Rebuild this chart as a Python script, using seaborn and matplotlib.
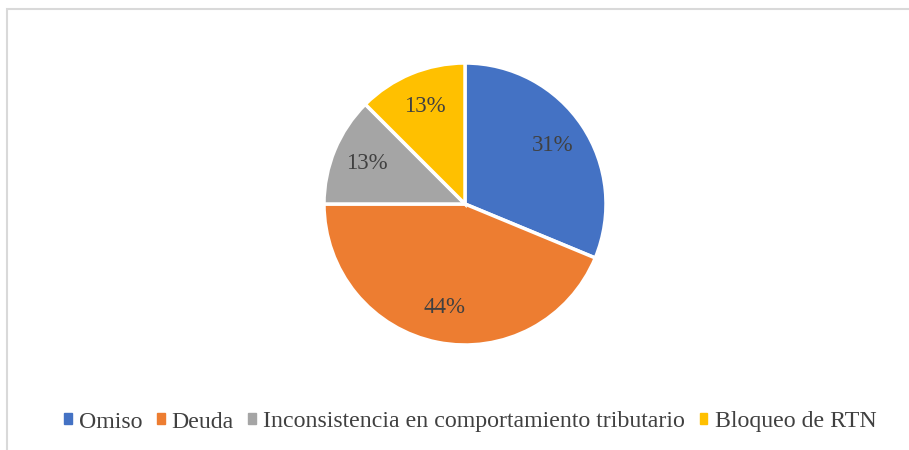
import matplotlib.pyplot as plt
import seaborn as sns
from matplotlib.patches import Rectangle

categorias = ['Omiso', 'Deuda', 'Inconsistencia en comportamiento tributario', 'Bloqueo de RTN']
casos = [5, 7, 2, 2]
colores = ['#4472C4', '#ED7D31', '#A5A5A5', '#FFC000']

sns.set_theme(style='white')
plt.rcParams['font.family'] = ['Liberation Serif', 'DejaVu Serif']

fig = plt.figure(figsize=(9.09, 4.5), dpi=100)
pal = sns.color_palette(colores)

# marco gris del grafico (recortado a la derecha y abajo)
fig.patches.append(Rectangle((6.5 / 909, -0.1), 1.1, 1 - 8.5 / 450 + 0.1,
                             transform=fig.transFigure, fill=False,
                             edgecolor='#D9D9D9', linewidth=1.5))

ax = fig.add_axes([(465 - 141) / 909, 1 - (204 + 141) / 450, 282 / 909, 282 / 450])
wedges, texts, autotexts = ax.pie(
    casos, colors=pal, startangle=90, counterclock=False,
    autopct=lambda p: f'{int(p + 0.5)}%', pctdistance=0.75,
    wedgeprops=dict(edgecolor='white', linewidth=2.5),
    textprops=dict(color='#404040', fontsize=16.5))
ax.set_xlim(-1, 1)
ax.set_ylim(-1, 1)
ax.set_aspect('equal')

handles = [Rectangle((0, 0), 1, 1, color=c) for c in pal]
fig.legend(handles, categorias, loc='center', bbox_to_anchor=(470 / 909, 1 - 422 / 450),
           ncol=4, frameon=False, fontsize=17.2, handlelength=0.33, handleheight=0.33,
           handletextpad=0.3, columnspacing=0.6, labelcolor='#404040')

fig.savefig('out.png', dpi=100)
